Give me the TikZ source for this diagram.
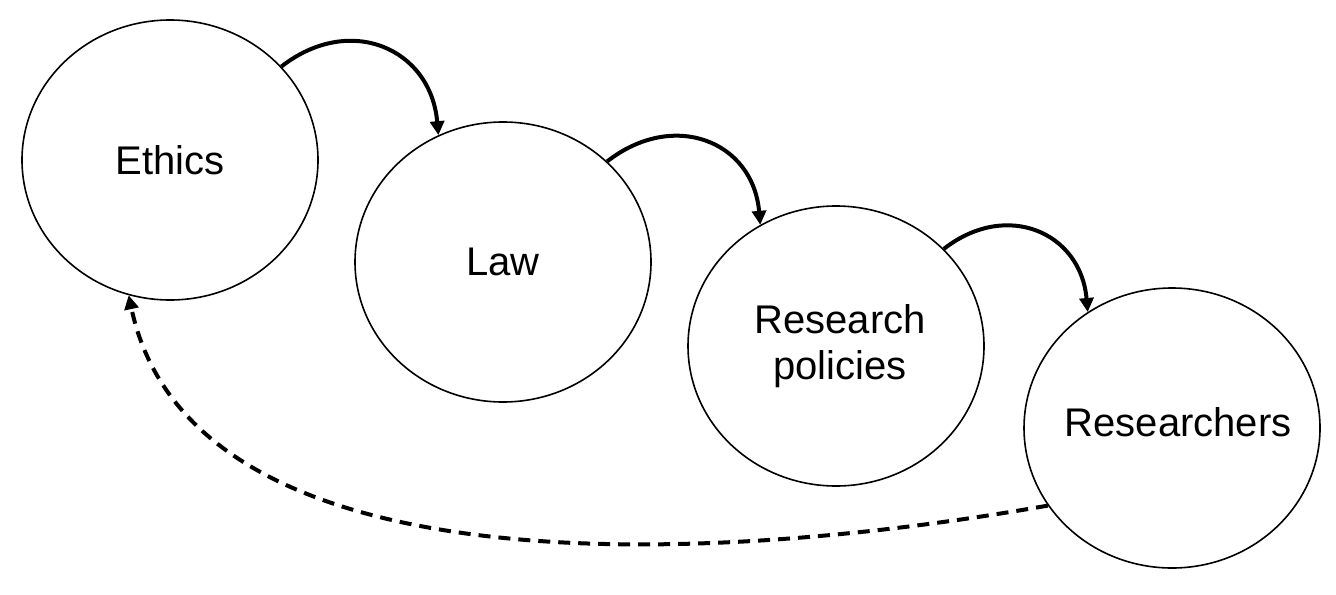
\documentclass[tikz,border=0pt]{standalone}
\usepackage{fontspec}
\setmainfont{Liberation Sans}
\usetikzlibrary{shapes.geometric,arrows.meta}
\begin{document}
\begin{tikzpicture}[x=0.5pt,y=-0.5pt,
        stage/.style={ellipse,draw,line width=0.8pt,minimum width=148pt,minimum height=140pt,inner sep=0pt,font=\fontsize{20}{23}\selectfont,align=center},
        flow/.style={line width=2pt,-{Triangle[length=7pt,width=7pt]}}]
        \useasboundingbox (0,0) rectangle (1336,594);

        \node[stage] (ethics) at (170,160) {Ethics};
        \node[stage] (law) at (503,262) {Law};
        \node[stage] (policies) at (836,346) {\raisebox{3pt}{\makebox[0pt]{\hspace*{4pt}Research}}\\\raisebox{3pt}{\makebox[0pt]{\hspace*{4pt}policies}}};
        \node[stage] (researchers) at (1172,428) {\makebox[0pt]{\hspace*{6pt}\raisebox{6pt}{Researchers}}};

        \draw[flow] (ethics.40) to[out=38,in=95,looseness=1.3] (law.117);
        \draw[flow] (law.44) to[out=38,in=95,looseness=1.3] (policies.122);
        \draw[flow] (policies.42) to[out=38,in=95,looseness=1.3] (researchers.126);

        \draw[flow,dash pattern=on 6pt off 4pt] (researchers.212) to[out=190,in=-78,looseness=0.85] (ethics.253);
       \end{tikzpicture}
\end{document}
